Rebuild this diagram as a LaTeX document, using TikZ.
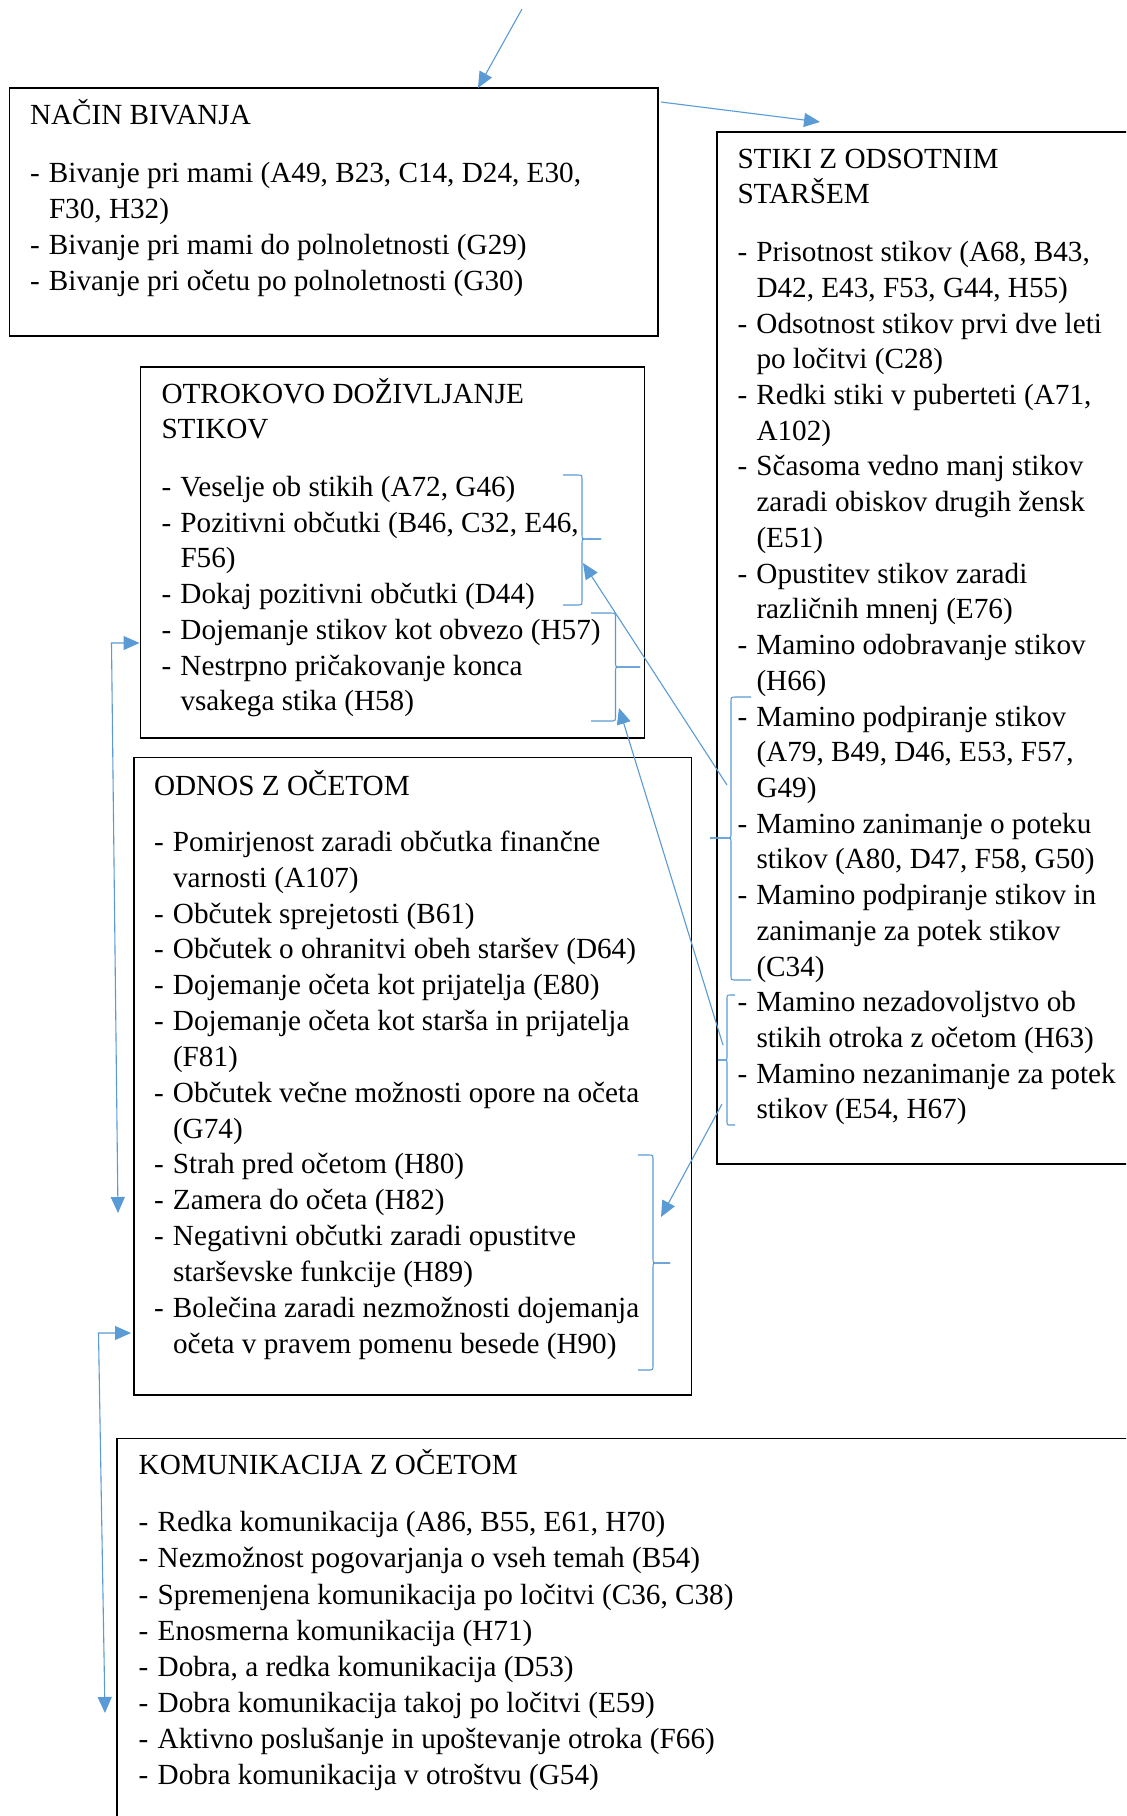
\documentclass[tikz,border=0pt]{standalone}
\usepackage{fontspec}
\setmainfont{Liberation Serif}
\usetikzlibrary{arrows.meta}
\definecolor{conncol}{HTML}{5B9BD5}
\newcommand{\bodyfont}{\fontsize{14.6pt}{17.85pt}\selectfont}
\newcommand{\blk}[2]{\vtop{\bodyfont\baselineskip=#1\lineskiplimit=-50pt\lineskip=0pt #2}}
\newcommand{\btitle}[1]{\hbox{#1}}
\newcommand{\bitem}[1]{\hbox{\makebox[9.5pt][l]{-}#1}}
\newcommand{\bcont}[1]{\hbox{\kern9.5pt #1}}
\tikzset{
  box/.style={draw=black, line width=0.75pt, inner sep=0pt, outer sep=0pt, anchor=north west},
  txt/.style={inner sep=0pt, outer sep=0pt, anchor=base west},
  conn/.style={draw=conncol, line width=0.55pt},
  brc/.style={draw=conncol, line width=0.55pt},
  tipped/.style={-{Triangle[length=8pt,width=7pt]}},
  bothtipped/.style={{Triangle[length=8pt,width=7pt]}-{Triangle[length=8pt,width=7pt]}}
}
\begin{document}
\begin{tikzpicture}[x=0.5pt,y=-0.5pt]
\path[use as bounding box] (0,0) rectangle (1126,1816);
\clip (0,0) rectangle (1126,1816);
\fill[white] (0,0) rectangle (1126,1816);

% boxes
\node[box, minimum width=324.35pt, minimum height=124pt] (b1) at (9.3,88) {};
\node[box, minimum width=209pt, minimum height=516pt] (b2) at (717,132) {};
\node[box, minimum width=252pt, minimum height=185.5pt] (b3) at (140.5,367) {};
\node[box, minimum width=278.75pt, minimum height=318.75pt] (b4) at (134,757.5) {};
\node[box, minimum width=509pt, minimum height=196pt] (b5) at (117,1438.5) {};

% texts
\node[txt] (t1) at (30,124) {\blk{17.95pt}{%
\btitle{NAČIN BIVANJA}\vskip11.4pt
\bitem{Bivanje pri mami (A49, B23, C14, D24, E30,}
\bcont{F30, H32)}
\bitem{Bivanje pri mami do polnoletnosti (G29)}
\bitem{Bivanje pri očetu po polnoletnosti (G30)}}};

\node[txt] (t2) at (737.5,168) {\blk{17.86pt}{%
\btitle{STIKI Z ODSOTNIM}
\btitle{STARŠEM}\vskip11.1pt
\bitem{Prisotnost stikov (A68, B43,}
\bcont{D42, E43, F53, G44, H55)}
\bitem{Odsotnost stikov prvi dve leti}
\bcont{po ločitvi (C28)}
\bitem{Redki stiki v puberteti (A71,}
\bcont{A102)}
\bitem{Sčasoma vedno manj stikov}
\bcont{zaradi obiskov drugih žensk}
\bcont{(E51)}
\bitem{Opustitev stikov zaradi}
\bcont{različnih mnenj (E76)}
\bitem{Mamino odobravanje stikov}
\bcont{(H66)}
\bitem{Mamino podpiranje stikov}
\bcont{(A79, B49, D46, E53, F57,}
\bcont{G49)}
\bitem{Mamino zanimanje o poteku}
\bcont{stikov (A80, D47, F58, G50)}
\bitem{Mamino podpiranje stikov in}
\bcont{zanimanje za potek stikov}
\bcont{(C34)}
\bitem{Mamino nezadovoljstvo ob}
\bcont{stikih otroka z očetom (H63)}
\bitem{Mamino nezanimanje za potek}
\bcont{stikov (E54, H67)}}};

\node[txt] (t3) at (161.5,403) {\blk{17.86pt}{%
\btitle{OTROKOVO DOŽIVLJANJE}
\btitle{STIKOV}\vskip11pt
\bitem{Veselje ob stikih (A72, G46)}
\bitem{Pozitivni občutki (B46, C32, E46,}
\bcont{F56)}
\bitem{Dokaj pozitivni občutki (D44)}
\bitem{Dojemanje stikov kot obvezo (H57)}
\bitem{Nestrpno pričakovanje konca}
\bcont{vsakega stika (H58)}}};

\node[txt] (t4) at (154,795.5) {\blk{17.92pt}{%
\btitle{ODNOS Z OČETOM}\vskip10pt
\bitem{Pomirjenost zaradi občutka finančne}
\bcont{varnosti (A107)}
\bitem{Občutek sprejetosti (B61)}
\bitem{Občutek o ohranitvi obeh staršev (D64)}
\bitem{Dojemanje očeta kot prijatelja (E80)}
\bitem{Dojemanje očeta kot starša in prijatelja}
\bcont{(F81)}
\bitem{Občutek večne možnosti opore na očeta}
\bcont{(G74)}
\bitem{Strah pred očetom (H80)}
\bitem{Zamera do očeta (H82)}
\bitem{Negativni občutki zaradi opustitve}
\bcont{starševske funkcije (H89)}
\bitem{Bolečina zaradi nezmožnosti dojemanja}
\bcont{očeta v pravem pomenu besede (H90)}}};

\node[txt] (t5) at (138.7,1474) {\blk{18.04pt}{%
\btitle{KOMUNIKACIJA Z OČETOM}\vskip10.9pt
\bitem{Redka komunikacija (A86, B55, E61, H70)}
\bitem{Nezmožnost pogovarjanja o vseh temah (B54)}
\bitem{Spremenjena komunikacija po ločitvi (C36, C38)}
\bitem{Enosmerna komunikacija (H71)}
\bitem{Dobra, a redka komunikacija (D53)}
\bitem{Dobra komunikacija takoj po ločitvi (E59)}
\bitem{Aktivno poslušanje in upoštevanje otroka (F66)}
\bitem{Dobra komunikacija v otroštvu (G54)}}};

% braces
\draw[brc] (563,475) -- (577,475) .. controls (582,475) .. (582,480) -- (582,534) .. controls (582,539) .. (587,539) -- (601,539);
\draw[brc] (601,539) -- (587,539) .. controls (582,539) .. (582,544) -- (582,600) .. controls (582,605) .. (577,605) -- (563,605);
\draw[brc] (591,613) -- (610,613) .. controls (615.5,613) .. (615.5,618) -- (615.5,662) .. controls (615.5,667) .. (621,667) -- (640,667);
\draw[brc] (640,667) -- (621,667) .. controls (615.5,667) .. (615.5,672) -- (615.5,716) .. controls (615.5,721) .. (610,721) -- (591,721);
\draw[brc] (751,697) -- (736,697) .. controls (731,697) .. (731,702) -- (731,833) .. controls (731,838) .. (726,838) -- (710,838);
\draw[brc] (710,838) -- (726,838) .. controls (731,838) .. (731,843) -- (731,975) .. controls (731,980) .. (736,980) -- (751,980);
\draw[brc] (735,995) -- (731,995) .. controls (727,995) .. (727,999) -- (727,1056) .. controls (727,1060) .. (723,1060) -- (718,1060);
\draw[brc] (718,1060) -- (723,1060) .. controls (727,1060) .. (727,1064) -- (727,1121) .. controls (727,1125) .. (731,1125) -- (735,1125);
\draw[brc] (638,1155) -- (648,1155) .. controls (653,1155) .. (653,1160) -- (653,1258) .. controls (653,1263) .. (658,1263) -- (670,1263);
\draw[brc] (670,1263) -- (658,1263) .. controls (653,1263) .. (653,1268) -- (653,1365) .. controls (653,1370) .. (648,1370) -- (638,1370);

% connector ends
\coordinate (s0) at (522,9);
\coordinate (e0) at (478,88);
\coordinate (s1) at (661,102);
\coordinate (e1) at (820,122);
\coordinate (s2) at (727,785);
\coordinate (e2) at (583,563);
\coordinate (s3) at (723,1045);
\coordinate (e3) at (619,708);
\coordinate (s4) at (722,1104);
\coordinate (e4) at (661,1217);
\coordinate (k1a) at (139.5,643);
\coordinate (k1b) at (111.5,643);
\coordinate (k1c) at (118,1213);
\coordinate (k2a) at (131,1333);
\coordinate (k2b) at (98.5,1333);
\coordinate (k2c) at (105,1713);

% connectors
\draw[conn, tipped] (s0) -- (e0);
\draw[conn, tipped] (s1) -- (e1);
\draw[conn, tipped] (s2) -- (e2);
\draw[conn, tipped] (s3) -- (e3);
\draw[conn, tipped] (s4) -- (e4);
\draw[conn, bothtipped] (k1a) -- (k1b) -- (k1c);
\draw[conn, bothtipped] (k2a) -- (k2b) -- (k2c);
\end{tikzpicture}
\end{document}
